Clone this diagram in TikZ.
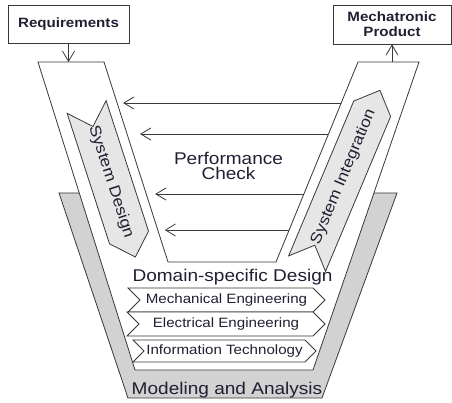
\documentclass[tikz,border=0pt]{standalone}
\usepackage{fontspec}
\setmainfont{Liberation Sans}[FakeStretch=1.12]
\usetikzlibrary{arrows.meta,calc,shapes.symbols}
\definecolor{linegray}{HTML}{383838}
\definecolor{basegray}{HTML}{D2D2D2}
\definecolor{phasegray}{HTML}{E6E6E6}
\definecolor{inkblue}{HTML}{1F2033}

\begin{document}
\begin{tikzpicture}[x=1pt,y=-1pt,line width=0.8pt,every node/.style={text=inkblue},
	box/.style={draw=linegray,fill=white,minimum width=121pt,minimum height=38pt,align=center,font=\fontsize{13.5}{15}\selectfont\bfseries},
	phase/.style={signal,signal to=east,signal from=west,draw=linegray,fill=phasegray,inner sep=0pt,font=\fontsize{15.5}{17}\selectfont},
	discipline/.style={signal,signal to=east,signal from=west,draw=linegray,fill=white,inner sep=0pt,font=\fontsize{13.5}{16}\selectfont},
	biglabel/.style={align=center,font=\fontsize{17}{15}\selectfont},
	flow/.style={draw=linegray,-{Straight Barb[length=10pt,width=12pt]}}]
	\useasboundingbox (0,0) rectangle (452,403);

	% modeling base
	\draw[draw=linegray,fill=basegray] (59,193) -- (397,193) -- (322,398) -- (128,398) -- cycle;

	% the V
	\coordinate (lo) at (38,62);
	\coordinate (li) at (104,62);
	\coordinate (lb) at (168,262);
	\coordinate (rb) at (276,262);
	\coordinate (ri) at (358,62);
	\coordinate (ro) at (419,62);
	\coordinate (rbo) at (313,370);
	\coordinate (lbo) at (135,370);
	\fill[white] (lo) -- (ro) -- (rbo) -- (lbo) -- cycle;
	\draw[linegray] (lo) -- (li) -- (lb) -- (rb) -- (ri) -- (ro) -- (rbo) -- (lbo) -- cycle;

	\node[box] (req) at (68.5,24) {Requirements};
	\node[box,minimum width=118pt,minimum height=39pt] (prod) at (392,24.5) {Mechatronic\\Product};

	\draw[flow] (req.south) -- (req.south |- lo);
	\draw[flow] (prod.south |- ro) -- (prod.south);

	% performance check
	\foreach \t/\g in {0.205/6,0.36/13,0.66/9,0.84/7}
		\draw[flow,shorten >=\g pt] ($(ri)!\t!(rb)$) -- ($(li)!\t!(lb)$);

	\node[phase,minimum width=147pt,minimum height=41pt,rotate=-72] (sysdes) at (111,182) {System Design};
	\node[phase,minimum width=188pt,minimum height=40pt,rotate=67.2] (sysint) at (343.5,177) {System Integration};

	\node[biglabel] (perf) at (228.5,166) {Performance\\Check};
	\node[biglabel,anchor=base] (dsd) at (232.5,281) {Domain-specific Design};

	\node[discipline,minimum width=197pt,minimum height=24pt] (mech) at (226.5,300) {Mechanical Engineering};
	\node[discipline,minimum width=198pt,minimum height=24pt] (elec) at (226,324) {Electrical Engineering};
	\node[discipline,minimum width=183pt,minimum height=22pt] (info) at (224.5,351) {Information Technology};

	\node[biglabel,anchor=base] (model) at (227,394) {Modeling and Analysis};
\end{tikzpicture}
\end{document}
